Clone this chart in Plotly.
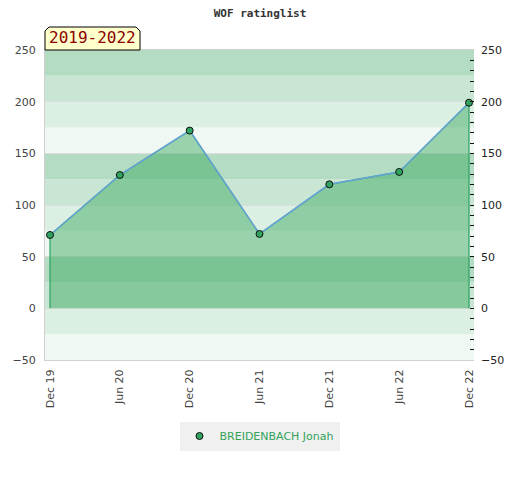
import plotly.graph_objects as go

# Data
periods = ["Dec 19", "Jun 20", "Dec 20", "Jun 21", "Dec 21", "Jun 22", "Dec 22"]
ratings = [71, 129, 172, 72, 120, 132, 199]
player = "BREIDENBACH Jonah"
title_text = "WOF ratinglist"
period_label = "2019-2022"
y_ticks = [-50, 0, 50, 100, 150, 200, 250]

W, H = 520, 480
ML, MR, MT, MB = 45, 46, 50, 120
PW, PH = W - ML - MR, H - MT - MB

fig = go.Figure()

# filled area polygon (baseline 0 -> values -> baseline 0)
poly_x = [periods[0]] + periods + [periods[-1]]
poly_y = [0] + ratings + [0]
fig.add_trace(go.Scatter(
    x=poly_x, y=poly_y, mode="lines", fill="toself",
    fillcolor="rgba(65,171,101,0.5)",
    line=dict(color="#2ca25f", width=1.2),
    hoverinfo="skip", showlegend=False,
))
# blue line
fig.add_trace(go.Scatter(
    x=periods, y=ratings, mode="lines",
    line=dict(color="#64a2d8", width=1.5),
    showlegend=False, hoverinfo="skip",
))
# markers
fig.add_trace(go.Scatter(
    x=periods, y=ratings, mode="markers", name=player,
    marker=dict(size=7, color="#2fa35f", line=dict(color="#111111", width=1)),
    showlegend=True,
))
# right axis dummy trace
fig.add_trace(go.Scatter(
    x=[periods[0]], y=[None], yaxis="y2", showlegend=False, hoverinfo="skip",
))

# background bands
band_colors = ["#f0f8f3", "#dcefe3", "#c8e6d3", "#b3dcc2"]
shapes = []
for i, y0 in enumerate(range(-50, 250, 25)):
    shapes.append(dict(
        type="rect", xref="paper", yref="y", x0=0, x1=1, y0=y0, y1=y0 + 25,
        fillcolor=band_colors[i % 4], line=dict(width=0), layer="below",
    ))

# label box with chamfered top corners
bx0, bx1 = 0.0, (140 - ML) / PW
by0, by1 = 1.0, (MT + PH - 27) / PH
cx, cy = 4 / PW, 4 / PH
path = (f"M {bx0},{by0} L {bx0},{by1 - cy} L {bx0 + cx},{by1} L {bx1 - cx},{by1} "
        f"L {bx1},{by1 - cy} L {bx1},{by0} Z")
shapes.append(dict(type="path", xref="paper", yref="paper", path=path,
                   fillcolor="#ffffcc", line=dict(color="#000000", width=1), layer="above"))

fig.update_layout(
    width=W, height=H,
    margin=dict(l=ML, r=MR, t=MT, b=MB),
    paper_bgcolor="white", plot_bgcolor="white",
    title=dict(text=title_text, x=0.5, xanchor="center", y=1 - 13 / H, yanchor="middle",
               font=dict(family="DejaVu Sans Mono", size=11, color="#333333", weight="bold")),
    shapes=shapes,
    annotations=[dict(
        text=period_label, xref="paper", yref="paper",
        x=(bx0 + bx1) / 2, y=(by0 + by1) / 2 + 0.002, xanchor="center", yanchor="middle",
        showarrow=False, font=dict(family="DejaVu Sans Mono", size=16, color="#8b0000"),
    )],
    xaxis=dict(
        type="category", categoryorder="array", categoryarray=periods,
        range=[-0.0716, len(periods) - 1 + 0.0716],
        tickmode="array", tickvals=periods, ticktext=periods,
        tickangle=-90, showgrid=False, zeroline=False,
        showline=True, linecolor="#d0d0d0", linewidth=1, mirror=True,
        ticks="", tickfont=dict(family="DejaVu Sans", size=11, color="#444444"),
        ticklabelstandoff=4,
    ),
    yaxis=dict(
        range=[-50, 250], tickvals=y_ticks, showgrid=True, gridcolor="#dddddd", gridwidth=1,
        zeroline=False, showline=True, linecolor="#d0d0d0", linewidth=1,
        ticks="", tickfont=dict(family="DejaVu Sans", size=11, color="#444444"),
        ticklabelstandoff=6,
    ),
    yaxis2=dict(
        range=[-50, 250], tickvals=y_ticks, overlaying="y", side="right",
        showgrid=False, zeroline=False, showline=False,
        ticks="inside", ticklen=4, tickcolor="#111111", tickwidth=1,
        minor=dict(dtick=10, ticks="inside", ticklen=4, tickcolor="#111111", tickwidth=1),
        tickfont=dict(family="DejaVu Sans", size=11, color="#222222"),
        ticklabelstandoff=6,
    ),
    legend=dict(
        orientation="h", x=0.5, xanchor="center", y=(MT + PH - 436) / PH, yanchor="middle",
        bgcolor="#f0f0f0", font=dict(family="DejaVu Sans", size=11, color="#33a35a"),
        itemwidth=30,
    ),
)

fig.write_html("out.html", config={"displayModeBar": False},
               post_script="document.body.style.margin='0';")
